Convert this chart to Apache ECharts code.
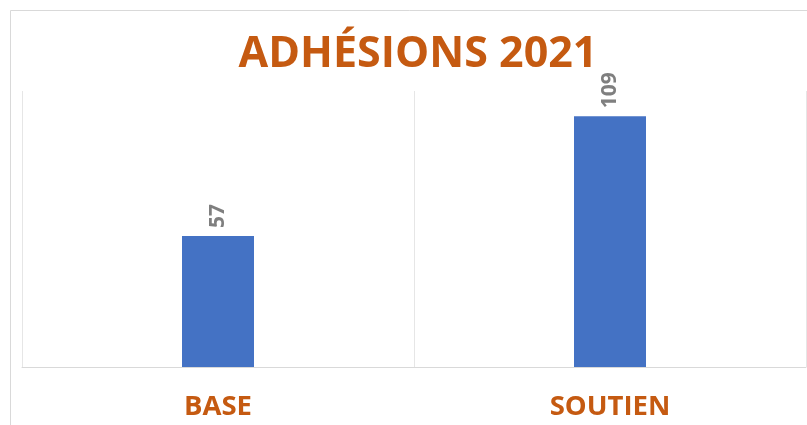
<!DOCTYPE html>
<html>
<head>
<meta charset="utf-8">
<script src="https://cdn.jsdelivr.net/npm/echarts@6/dist/echarts.min.js"></script>
<style>
html,body{margin:0;padding:0;background:#fff;}
#chart{width:807px;height:425px;}
</style>
</head>
<body>
<div id="chart"></div>
<script>
const titleText = 'ADHÉSIONS 2021';
const categories = ['BASE', 'SOUTIEN'];
const values = [57, 109];

const chart = echarts.init(document.getElementById('chart'), null, {renderer: 'canvas'});
chart.setOption({
  animation: false,
  backgroundColor: '#ffffff',
  title: {
    text: titleText,
    left: 413,
    textAlign: 'center',
    top: 28,
    textStyle: {
      fontFamily: 'Open Sans',
      fontWeight: 'bold',
      fontSize: 43,
      color: '#C55A11'
    }
  },
  graphic: [{
    type: 'rect',
    silent: true,
    shape: {x: 10.5, y: 10.5, width: 820, height: 440},
    style: {fill: 'none', stroke: '#d9d9d9', lineWidth: 1}
  }],
  grid: {left: 22, right: 1, top: 91, bottom: 58, containLabel: false},
  xAxis: {
    type: 'category',
    data: categories,
    boundaryGap: true,
    axisTick: {show: false},
    axisLine: {show: true, lineStyle: {color: '#d9d9d9', width: 1}},
    splitLine: {show: true, lineStyle: {color: '#e6e6e6', width: 1}},
    axisLabel: {
      margin: 26,
      fontFamily: 'Open Sans',
      fontWeight: 'bold',
      fontSize: 27.5,
      color: '#C55A11'
    }
  },
  yAxis: {
    type: 'value',
    min: 0,
    max: 120,
    show: false,
    splitLine: {show: false}
  },
  series: [{
    type: 'bar',
    data: values,
    barWidth: 72,
    itemStyle: {color: '#4472C4'},
    label: {
      show: true,
      position: 'top',
      rotate: 90,
      align: 'left',
      verticalAlign: 'middle',
      distance: 8,
      fontFamily: 'Open Sans',
      fontWeight: 'bold',
      fontSize: 21,
      color: '#7F7F7F'
    }
  }]
});
</script>
</body>
</html>
